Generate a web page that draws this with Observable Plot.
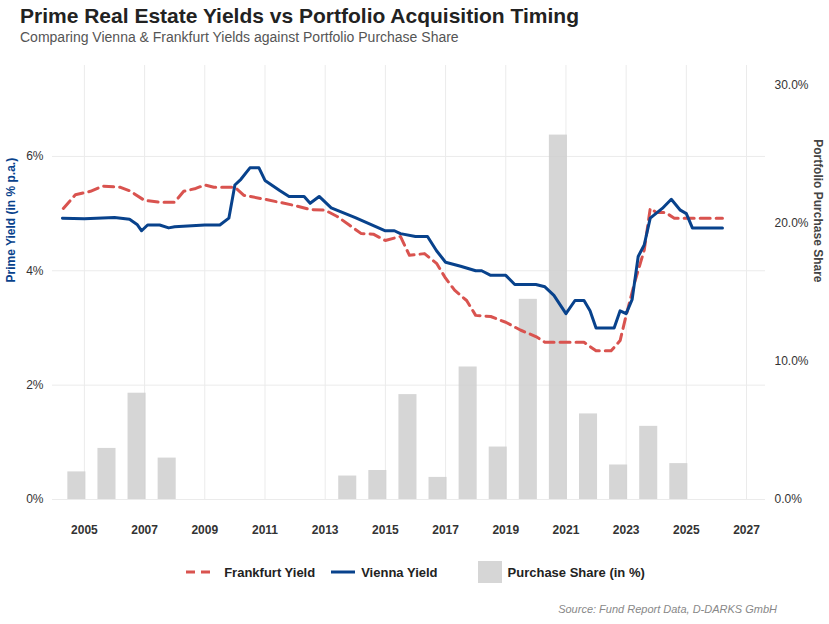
<!DOCTYPE html>
<html><head><meta charset="utf-8">
<script src="https://cdn.jsdelivr.net/npm/d3@7"></script>
<script src="https://cdn.jsdelivr.net/npm/@observablehq/plot@0.6"></script>
<style>
body{margin:0;font-family:"Liberation Sans",Arial,sans-serif;background:#fff;width:829px;height:624px;position:relative}
#t{position:absolute;left:20px;top:4px;font-size:21px;font-weight:bold;color:#222}
#s{position:absolute;left:20px;top:29px;font-size:14px;color:#555}
#c{position:absolute;top:62px;left:0}
#lg{position:absolute;top:561px;left:0;width:829px;display:flex;justify-content:center;gap:16px;font-size:13px;font-weight:bold;color:#222;align-items:center}
#lg span{display:flex;align-items:center;gap:6px}
#cap{position:absolute;right:52px;top:603px;font-size:11px;font-style:italic;color:#888}
</style></head><body>
<div id="t">Prime Real Estate Yields vs Portfolio Acquisition Timing</div>
<div id="s">Comparing Vienna &amp; Frankfurt Yields against Portfolio Purchase Share</div>
<div id="c"></div>
<div id="lg">
<span><svg width="34" height="10"><line x1="2" y1="5" x2="32" y2="5" stroke="#d9534f" stroke-width="3" stroke-dasharray="9,6"/></svg>Frankfurt Yield</span>
<span><svg width="24" height="10"><line x1="0" y1="5" x2="24" y2="5" stroke="#08428c" stroke-width="3"/></svg>Vienna Yield</span>
<span style="margin-left:24px"><svg width="24" height="22"><rect width="24" height="22" fill="#d6d6d6"/></svg>Purchase Share (in %)</span>
</div>
<div id="cap">Source: Fund Report Data, D-DARKS GmbH</div>
<script>
const barYears=[2005,2006,2007,2008,2014,2015,2016,2017,2018,2019,2020,2021,2022,2023,2024,2025];
const barShare=[2.0,3.7,7.7,3.0,1.7,2.1,7.6,1.6,9.6,3.8,14.5,26.4,6.2,2.5,5.3,2.6];
const viennaX=[2004.27,2005,2006,2006.5,2006.75,2006.9,2007.1,2007.5,2007.8,2008,2009,2009.5,2009.8,2010,2010.2,2010.5,2010.8,2011,2011.5,2011.8,2012.3,2012.5,2012.8,2013.2,2014,2015,2015.3,2015.5,2016,2016.4,2016.7,2017,2017.5,2018,2018.2,2018.5,2019,2019.3,2020,2020.3,2020.6,2021,2021.3,2021.6,2021.8,2022,2022.6,2022.8,2023,2023.2,2023.4,2023.6,2023.8,2024.2,2024.5,2024.8,2025,2025.2,2026.2];
const viennaY=[4.92,4.91,4.93,4.9,4.81,4.7,4.8,4.8,4.75,4.77,4.8,4.8,4.92,5.5,5.6,5.8,5.8,5.58,5.4,5.3,5.3,5.18,5.3,5.1,4.93,4.7,4.7,4.65,4.6,4.6,4.35,4.15,4.08,4.0,4.0,3.92,3.92,3.76,3.76,3.72,3.57,3.25,3.48,3.48,3.3,3.0,3.0,3.3,3.25,3.5,4.25,4.45,4.92,5.09,5.25,5.06,5.0,4.75,4.75];
const frankX=[2004.3,2004.7,2005.2,2005.6,2006.2,2006.5,2007,2007.5,2008,2008.3,2008.7,2009,2009.3,2010,2010.3,2011,2012,2012.5,2013,2013.4,2013.8,2014.2,2014.6,2015,2015.5,2015.8,2016.3,2016.7,2017,2017.3,2017.7,2018,2018.5,2019,2019.5,2020,2020.3,2021,2021.6,2022,2022.5,2022.8,2023,2023.3,2023.6,2023.8,2024,2024.3,2024.6,2025,2026.2];
const frankY=[5.09,5.33,5.39,5.48,5.46,5.4,5.23,5.2,5.2,5.39,5.44,5.5,5.46,5.46,5.32,5.25,5.14,5.07,5.06,4.95,4.8,4.65,4.64,4.53,4.6,4.27,4.3,4.13,3.87,3.66,3.48,3.22,3.2,3.1,2.96,2.85,2.75,2.75,2.75,2.6,2.6,2.78,3.22,3.83,4.36,5.09,5.02,5.02,4.92,4.92,4.92];
const xTicks=[2005,2007,2009,2011,2013,2015,2017,2019,2021,2023,2025,2027];
const rightTicks=[0,10,20,30];
const k=0.2414; // share% -> yield% units
const bars=barYears.map((y,i)=>({year:y,v:barShare[i]*k}));
const V=viennaX.map((x,i)=>({x,y:viennaY[i]}));
const F=frankX.map((x,i)=>({x,y:frankY[i]}));
const p=Plot.plot({
 width:829,height:490,marginLeft:52,marginRight:64,marginTop:3,marginBottom:53,
 style:{fontFamily:"'Liberation Sans',Arial,sans-serif",fontSize:"12px",color:"#333"},
 x:{domain:[2003.94,2027.63]},
 y:{domain:[0,7.59]},
 marks:[
  Plot.gridX(xTicks,{stroke:"#ebebeb",strokeOpacity:1}),
  Plot.gridY([0,2,4,6],{stroke:"#ebebeb",strokeOpacity:1}),
  Plot.rectY(bars,{x1:d=>d.year-0.55,x2:d=>d.year+0.05,y:"v",fill:"#cfcfcf",fillOpacity:0.85}),
  Plot.line(F,{x:"x",y:"y",stroke:"#d9534f",strokeWidth:3,strokeDasharray:"10,6"}),
  Plot.line(V,{x:"x",y:"y",stroke:"#08428c",strokeWidth:3}),
  Plot.axisX(xTicks,{tickFormat:d=>String(d),tickSize:0,fontWeight:"bold",fontSize:12,label:null,tickPadding:26}),
  Plot.axisY([0,2,4,6],{tickFormat:d=>d+"%",tickSize:0,label:null,fontSize:12}),
  Plot.axisY(rightTicks.map(s=>s*k),{anchor:"right",tickFormat:(d,i)=>rightTicks[i].toFixed(1)+"%",tickSize:0,label:null,fontSize:12}),
  Plot.text(["Prime Yield (in % p.a.)"],{frameAnchor:"left",dx:-41,rotate:-90,fill:"#08428c",fontWeight:"bold",fontSize:12}),
  Plot.text(["Portfolio Purchase Share"],{frameAnchor:"right",dx:52,rotate:90,fill:"#444",fontWeight:"bold",fontSize:12})
 ]
});
document.getElementById("c").appendChild(p);
</script>
</body></html>
